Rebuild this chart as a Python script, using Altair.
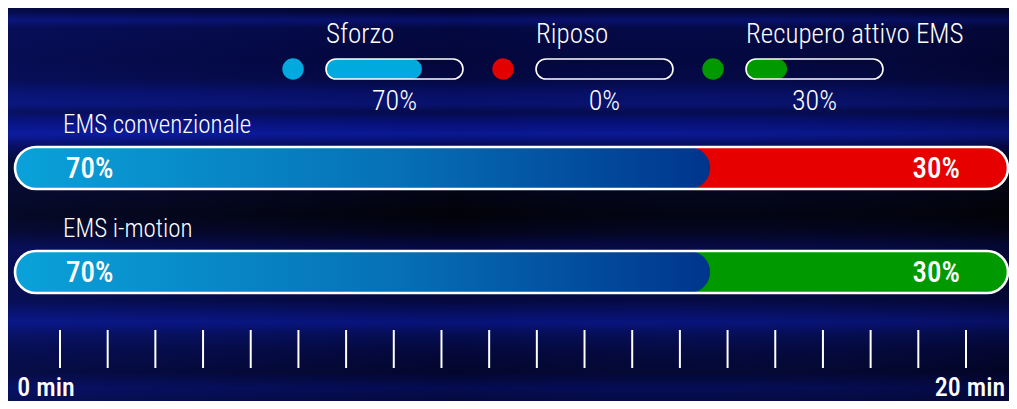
import altair as alt
import pandas as pd

# ---------------- data ----------------
legend_names = ["Sforzo", "Riposo", "Recupero attivo EMS"]
legend_values = [70, 0, 30]

rows = ["EMS convenzionale", "EMS i-motion"]
effort_pct = [70, 70]
second_pct = [30, 30]

tick_minutes = list(range(1, 21))
time_label_minutes = [0, 20]
time_labels = ["0 min", "20 min"]

# ---------------- styles ----------------
legend_colors = ["#00aade", "#e30000", "#009a00"]
second_colors = ["#e60000", "#009a00"]
W, H = 1001, 393
FONT = "Liberation Sans Narrow, Roboto Condensed, DejaVu Sans Condensed, Arial Narrow, sans-serif"

# background streaks (image y, colour)
bg_img = [(0, "#02042a"), (12, "#030534"), (20, "#07106a"), (28, "#040840"),
          (60, "#03063a"), (80, "#040840"), (92, "#060e60"), (104, "#08126e"),
          (112, "#050a4a"), (122, "#060f72"), (134, "#0a1892"), (146, "#050a52"),
          (160, "#03051e"), (192, "#030414"), (215, "#020208"), (232, "#03041a"),
          (248, "#050942"), (270, "#040838"), (300, "#04083c"), (312, "#060e5e"),
          (322, "#08137a"), (334, "#050d52"), (350, "#04083a"), (372, "#03062c"),
          (388, "#050b50"), (401, "#040a3c")]
bg_stops = [alt.GradientStop(offset=min(1, max(0, (y - 8) / H)), color=c) for y, c in bg_img]

one = pd.DataFrame({"a": [0]})
bg = alt.Chart(one).mark_rect(
    fill=alt.Gradient(gradient="linear", x1=0, y1=0, x2=0, y2=1, stops=bg_stops)
).encode(x=alt.value(0), x2=alt.value(W), y=alt.value(0), y2=alt.value(H))

bg_left = alt.Chart(one).mark_rect(
    fill=alt.Gradient(gradient="linear", x1=0, y1=0, x2=1, y2=0, stops=[
        alt.GradientStop(offset=0, color="rgba(30,60,255,0.12)"),
        alt.GradientStop(offset=0.45, color="rgba(30,60,255,0.0)"),
        alt.GradientStop(offset=1, color="rgba(0,0,0,0.18)")])
).encode(x=alt.value(0), x2=alt.value(W), y=alt.value(0), y2=alt.value(H))

# ---------------- legend ----------------
leg = pd.DataFrame({"name": legend_names, "value": legend_values,
                    "slot": list(range(len(legend_names)))})
leg["pct"] = leg["value"].astype(str) + "%"
LX = alt.Scale(domain=[0, 3], range=[318, 948])
BW = 137 / 210
lcol = alt.Color("name:N", scale=alt.Scale(domain=legend_names, range=legend_colors), legend=None)
lbase = alt.Chart(leg).transform_calculate(
    cx="datum.slot - 0.157",
    bx2=f"datum.slot + {BW}",
    fx2=f"datum.slot + {BW} * datum.value / 100",
    tx=f"datum.slot + {BW / 2}",
)

l_circle = lbase.mark_circle(size=460, opacity=1).encode(
    x=alt.X("cx:Q", scale=LX, axis=None), y=alt.value(61), color=lcol)
l_fill = lbase.mark_rect(cornerRadius=10).encode(
    x=alt.X("slot:Q", scale=LX, axis=None), x2="fx2:Q",
    y=alt.value(51), y2=alt.value(71), color=lcol)
l_outline = lbase.mark_rect(cornerRadius=10, fillOpacity=0, stroke="white", strokeWidth=1.6).encode(
    x=alt.X("slot:Q", scale=LX, axis=None), x2="bx2:Q",
    y=alt.value(51), y2=alt.value(71))
l_name = lbase.mark_text(align="left", baseline="alphabetic", font=FONT, fontSize=27,
                         fontWeight=300, color="white").encode(
    x=alt.X("slot:Q", scale=LX, axis=None), y=alt.value(35), text="name:N")
l_pct = lbase.mark_text(align="center", baseline="alphabetic", font=FONT, fontSize=28,
                        fontWeight=300, color="white").encode(
    x=alt.X("tx:Q", scale=LX, axis=None), y=alt.value(102), text="pct:N")

# ---------------- main bars ----------------
main = pd.DataFrame({"row": rows, "effort": effort_pct, "second": second_pct})
main["total"] = main["effort"] + main["second"]
main["start"] = 0
main["effort_lbl"] = main["effort"].astype(str) + "%"
main["second_lbl"] = main["second"].astype(str) + "%"

MX = alt.Scale(domain=[0, 100], range=[7, 1000])
MY = alt.Scale(domain=rows, range=[108, 316], paddingInner=0, paddingOuter=0)
mbase = alt.Chart(main)
ycat = alt.Y("row:N", scale=MY, axis=None)

m_full = mbase.mark_bar(height=42, cornerRadius=21).encode(
    x=alt.X("start:Q", scale=MX, axis=None), x2="total:Q", y=ycat,
    color=alt.Color("row:N", scale=alt.Scale(domain=rows, range=second_colors), legend=None))
blue_grad = alt.Gradient(gradient="linear", x1=0, y1=0, x2=1, y2=0, stops=[
    alt.GradientStop(offset=0, color="#0aa2da"),
    alt.GradientStop(offset=0.55, color="#0670b6"),
    alt.GradientStop(offset=1, color="#00358c")])
m_blue = mbase.mark_bar(height=42, cornerRadius=21, fill=blue_grad).encode(
    x=alt.X("start:Q", scale=MX, axis=None), x2="effort:Q", y=ycat)
m_outline = mbase.mark_bar(height=42, cornerRadius=21, fillOpacity=0, stroke="white",
                           strokeWidth=2.6).encode(
    x=alt.X("start:Q", scale=MX, axis=None), x2="total:Q", y=ycat)
m_lbl1 = mbase.mark_text(align="left", baseline="alphabetic", dx=51, dy=10, font=FONT,
                         fontSize=29, fontWeight=500, color="white").encode(
    x=alt.X("start:Q", scale=MX, axis=None), y=ycat, text="effort_lbl:N")
m_lbl2 = mbase.mark_text(align="right", baseline="alphabetic", dx=-48, dy=10, font=FONT,
                         fontSize=29, fontWeight=500, color="white").encode(
    x=alt.X("total:Q", scale=MX, axis=None), y=ycat, text="second_lbl:N")
m_row = mbase.mark_text(align="left", baseline="alphabetic", dx=48, dy=-35, font=FONT,
                        fontSize=25, fontWeight=300, color="white").encode(
    x=alt.X("start:Q", scale=MX, axis=None), y=ycat, text="row:N")

# ---------------- time ticks ----------------
TX = alt.Scale(domain=[0, 20], range=[4.316, 958])
ticks = alt.Chart(pd.DataFrame({"m": tick_minutes})).mark_rule(
    color="white", strokeWidth=2).encode(
    x=alt.X("m:Q", scale=TX, axis=None), y=alt.value(322), y2=alt.value(360))
tl = pd.DataFrame({"m": time_label_minutes, "t": time_labels})
t0 = alt.Chart(tl.iloc[[0]]).mark_text(align="left", baseline="alphabetic", dx=5, font=FONT,
                                       fontSize=26, fontWeight=500, color="white").encode(
    x=alt.X("m:Q", scale=TX, axis=None), y=alt.value(388), text="t:N")
t1 = alt.Chart(tl.iloc[[1]]).mark_text(align="center", baseline="alphabetic", dx=4, font=FONT,
                                       fontSize=26, fontWeight=500, color="white").encode(
    x=alt.X("m:Q", scale=TX, axis=None), y=alt.value(388), text="t:N")

chart = alt.layer(
    bg, bg_left,
    l_circle, l_fill, l_outline, l_name, l_pct,
    m_full, m_blue, m_outline, m_lbl1, m_lbl2, m_row,
    ticks, t0, t1,
).resolve_scale(x="independent", y="independent", color="independent").properties(
    width=W, height=H, padding=0, background="#03052c",
    autosize=alt.AutoSizeParams(type="none"),
).configure_view(strokeWidth=0)

chart.save("out.html", embed_options={"renderer": "svg", "actions": False})
